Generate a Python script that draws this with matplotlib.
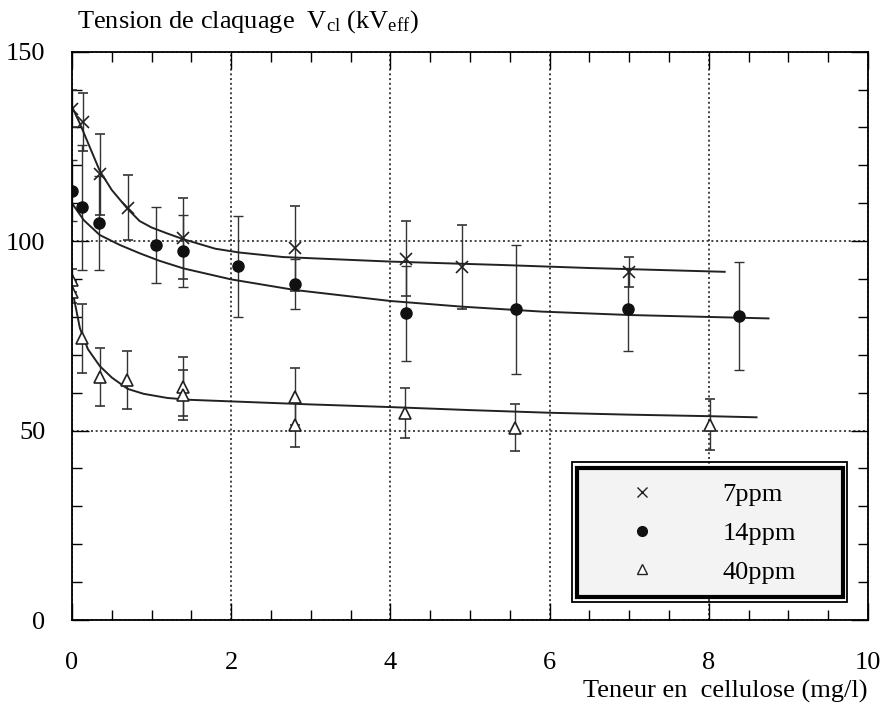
import matplotlib
matplotlib.use("Agg")
import matplotlib.pyplot as plt
from matplotlib.lines import Line2D
from matplotlib.patches import Rectangle

plt.rcParams['font.family'] = ['Liberation Serif', 'DejaVu Serif']
plt.rcParams['mathtext.fontset'] = 'custom'
plt.rcParams['mathtext.rm'] = 'Liberation Serif'
plt.rcParams['mathtext.it'] = 'Liberation Serif:italic'

# measured points (cellulose mg/l, breakdown voltage kV, error half-width)
x7 = [0.0, 0.14, 0.35, 0.70, 1.40, 2.80, 4.20, 4.90, 7.00]
y7 = [135.0, 131.5, 117.6, 108.8, 100.7, 98.1, 95.4, 93.2, 91.9]
e7 = [5.0, 7.6, 10.6, 8.6, 10.8, 11.2, 10.0, 11.0, 4.0]

x14 = [0.0, 0.13, 0.34, 1.05, 1.40, 2.09, 2.80, 4.20, 5.58, 6.98, 8.38]
y14 = [113.3, 108.9, 104.7, 98.9, 97.4, 93.4, 88.8, 80.9, 82.0, 82.0, 80.2]
e14 = [8.0, 16.6, 12.4, 10.0, 9.5, 13.3, 6.6, 12.5, 17.0, 11.0, 14.3]

x40 = [0.0, 0.0, 0.12, 0.35, 0.69, 1.40, 1.40, 2.80, 2.80, 4.19, 5.57, 8.02]
y40 = [89.7, 86.6, 74.3, 64.2, 63.3, 61.6, 59.4, 58.9, 51.5, 54.7, 50.8, 51.5]
e40 = [3.0, 3.0, 9.0, 7.7, 7.6, 7.7, 6.6, 7.5, 5.8, 6.6, 6.2, 6.7]

# fitted curves
c7x = [0, 0.1, 0.2, 0.35, 0.5, 0.7, 0.85, 1.0, 1.2, 1.4, 1.8, 2.1, 2.65, 4.0, 5.4, 6.5, 8.2]
c7y = [135.5, 131, 126, 118.5, 113.5, 108.5, 105.3, 103.6, 102, 100.5, 98, 97, 95.8, 94.6, 93.7, 92.9, 91.9]

c14x = [0, 0.15, 0.35, 0.6, 0.85, 1.1, 1.4, 2.0, 2.8, 4.0, 4.9, 5.9, 7.0, 8.75]
c14y = [110, 105.5, 101.6, 99, 96.8, 94.8, 92.8, 89.9, 87.1, 84.2, 82.7, 81.4, 80.5, 79.6]

c40x = [0, 0.1, 0.2, 0.35, 0.5, 0.7, 0.9, 1.2, 1.5, 2.0, 3.0, 4.0, 5.0, 6.0, 7.0, 8.0, 8.6]
c40y = [87.5, 77, 71.5, 67, 64, 61, 59.7, 58.6, 58.1, 57.7, 56.9, 56.2, 55.4, 54.7, 54.2, 53.8, 53.5]

labels = ['7ppm', '14ppm', '40ppm']
xticks = [0, 2, 4, 6, 8, 10]
yticks = [0, 50, 100, 150]

fs = 19

fig = plt.figure(figsize=(8.83, 7.06), dpi=100)
ax = fig.add_axes([0.0815, 0.1218, 0.9015, 0.805])

ax.set_xlim(0, 10)
ax.set_ylim(0, 150)
ax.set_xticks(xticks)
ax.set_yticks(yticks)
ax.set_xticks([v / 2 for v in range(21)], minor=True)
ax.set_yticks(list(range(0, 151, 10)), minor=True)
ax.tick_params(which='both', direction='in', top=True, right=True, labelsize=fs, width=1)
ax.tick_params(which='major', length=12)
ax.tick_params(which='minor', length=7)
ax.tick_params(axis='x', pad=23)
ax.tick_params(axis='y', pad=19)
for s in ax.spines.values():
    s.set_linewidth(1.3)
ax.grid(True, which='major', color='#111111', linestyle=(0, (1.3, 1.8)), linewidth=1.1)

err_kw = dict(ecolor='#333333', elinewidth=1, capsize=3.5, capthick=1, linestyle='none')
ax.errorbar(x7, y7, yerr=e7, marker='x', ms=9, mew=1.2, color='#222222', **err_kw)
ax.errorbar(x14, y14, yerr=e14, marker='o', ms=8, color='#111111', **err_kw)
ax.errorbar(x40, y40, yerr=e40, marker='^', ms=9, mfc='white', mec='#222222', mew=1.2, **err_kw)

for cx, cy in [(c7x, c7y), (c14x, c14y), (c40x, c40y)]:
    ax.plot(cx, cy, color='#222222', lw=1.4)

# legend with a double frame
ax.add_patch(Rectangle((0.628, 0.032), 0.346, 0.2455, transform=ax.transAxes,
                       fill=False, edgecolor='black', lw=1.3, zorder=5))
ax.add_patch(Rectangle((0.634, 0.041), 0.334, 0.227, transform=ax.transAxes,
                       facecolor='#f3f3f3', edgecolor='black', lw=3, zorder=5))
handles = [Line2D([], [], marker='x', ms=7, mew=1, color='#222222', ls='none'),
           Line2D([], [], marker='o', ms=7, color='#111111', ls='none'),
           Line2D([], [], marker='^', ms=7, mfc='white', mec='#222222', mew=1, ls='none')]
leg = ax.legend(handles, labels, loc='center left', bbox_to_anchor=(0.686, 0.153),
                borderaxespad=0, frameon=False, fontsize=fs, handlelength=1,
                handletextpad=2.55, labelspacing=0.58, numpoints=1)
leg.set_zorder(6)

fig.text(77 / 883, 1 - 28 / 706, r'Tension de claquage  V$_{\mathrm{cl}}$ (kV$_{\mathrm{eff}}$)',
         fontsize=fs, va='baseline', ha='left')
ax.set_xlabel('Teneur en  cellulose (mg/l)', fontsize=fs, loc='right', labelpad=4)

fig.savefig('out.png', dpi=100)
